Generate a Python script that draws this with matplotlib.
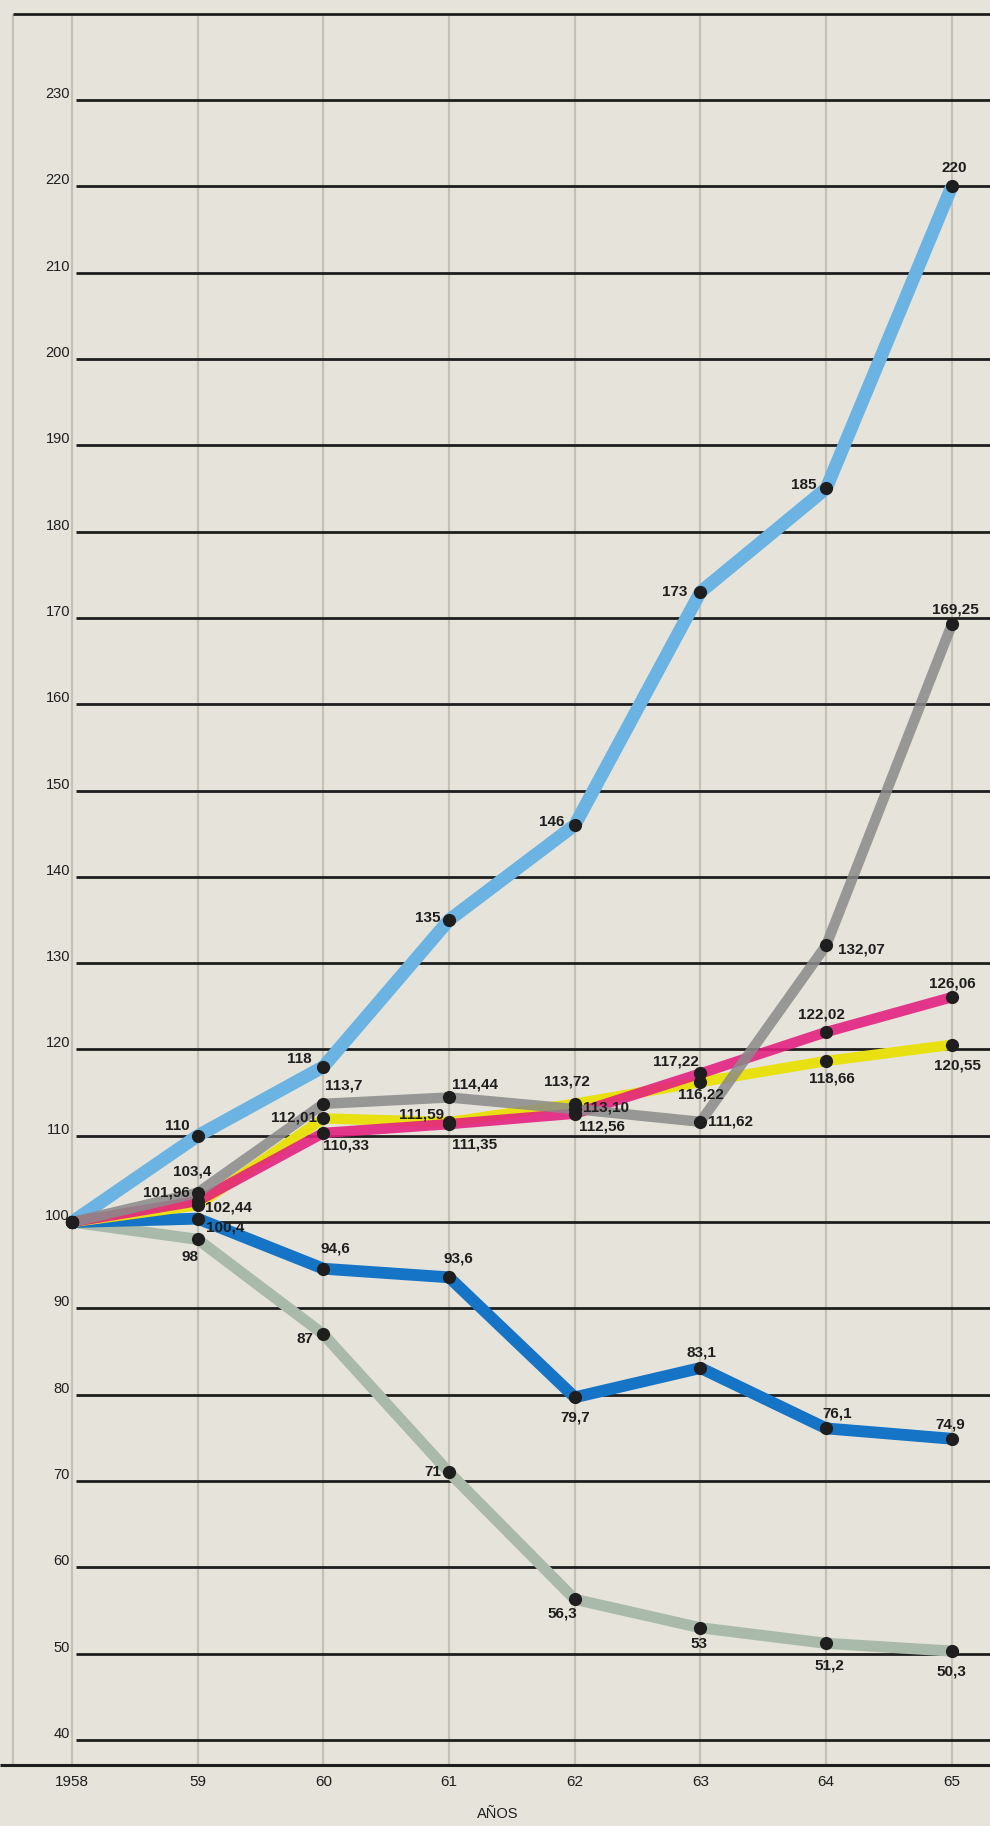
import matplotlib
matplotlib.use("Agg")
import matplotlib.pyplot as plt

# ---------------- data ----------------
years = [1958, 1959, 1960, 1961, 1962, 1963, 1964, 1965]
year_labels = ["1958", "59", "60", "61", "62", "63", "64", "65"]
y_ticks = [40, 50, 60, 70, 80, 90, 100, 110, 120, 130, 140, 150,
           160, 170, 180, 190, 200, 210, 220, 230]

sky = [100, 110, 118, 135, 146, 173, 185, 220]
sky_lbl = [None, "110", "118", "135", "146", "173", "185", "220"]

grey = [100, 103.4, 113.7, 114.44, 113.10, 111.62, 132.07, 169.25]
grey_lbl = [None, "103,4", "113,7", "114,44", "113,10", "111,62", "132,07", "169,25"]

yellow = [100, 101.96, 112.01, 111.59, 113.72, 116.22, 118.66, 120.55]
yellow_lbl = [None, "101,96", "112,01", "111,59", "113,72", "116,22", "118,66", "120,55"]

magenta = [100, 102.44, 110.33, 111.35, 112.56, 117.22, 122.02, 126.06]
magenta_lbl = [None, "102,44", "110,33", "111,35", "112,56", "117,22", "122,02", "126,06"]

blue = [100, 100.4, 94.6, 93.6, 79.7, 83.1, 76.1, 74.9]
blue_lbl = [None, "100,4", "94,6", "93,6", "79,7", "83,1", "76,1", "74,9"]

sage = [100, 98, 87, 71, 56.3, 53, 51.2, 50.3]
sage_lbl = [None, "98", "87", "71", "56,3", "53", "51,2", "50,3"]

# ---------------- layout (pixels) ----------------
W, H = 990, 1826
X0_PX, DX_PX = 72.0, 125.7          # pixel of 1958 and per-year spacing
Y230_PX, Y40_PX = 100.0, 1740.0     # pixel rows of 230 and 40
PPU = (Y40_PX - Y230_PX) / 190.0

xlim = (1958 - X0_PX / DX_PX, 1958 + (W - X0_PX) / DX_PX)
ylim = (40 - (H - Y40_PX) / PPU, 230 + Y230_PX / PPU)

def xpx(p):
    return xlim[0] + p / DX_PX

BG = "#e6e4da"
INK = "#1e1e1e"
FONT = ["Liberation Sans", "DejaVu Sans"]

fig = plt.figure(figsize=(W / 100, H / 100), dpi=100, facecolor=BG)
ax = fig.add_axes([0, 0, 1, 1])
ax.set_facecolor(BG)
ax.set_xlim(*xlim)
ax.set_ylim(*ylim)
ax.axis("off")

bottom_val = 40 - 25 / PPU
top_val = 240

# vertical paper lines
ax.vlines(years, bottom_val, top_val, color="#c4c2b6", lw=1.6, zorder=1)
ax.vlines([xpx(13)], bottom_val, top_val, color="#c4c2b6", lw=1.6, zorder=1)

# horizontal ruled lines
ax.hlines(y_ticks, xpx(76), xlim[1], color=INK, lw=2.0, zorder=2)
ax.hlines([top_val], xpx(13), xlim[1], color=INK, lw=2.0, zorder=2)
ax.hlines([bottom_val], xlim[0], xlim[1], color=INK, lw=2.2, zorder=2)

# y labels
for v in y_ticks:
    ax.annotate(str(v), (xpx(70), v), xytext=(0, 2), textcoords="offset pixels",
                ha="right", va="baseline", fontsize=10.5, color=INK, family=FONT)

# year labels
for yr, lab in zip(years, year_labels):
    ax.annotate(lab, (yr, bottom_val), xytext=(0, -10), textcoords="offset pixels",
                ha="center", va="top", fontsize=11, color=INK, family=FONT)

fig.text(498 / W, (H - 1814) / H, "AÑOS", ha="center", va="center",
         fontsize=10.5, color=INK, family=FONT)

# series
series = [
    (sage, sage_lbl, "#a9baab", 8.0, 1.0, 3),
    (blue, blue_lbl, "#1574c6", 8.5, 1.0, 4),
    (sky, sky_lbl, "#6ab3e2", 9.4, 1.0, 5),
    (yellow, yellow_lbl, "#e8e010", 7.5, 1.0, 6),
    (magenta, magenta_lbl, "#e31e80", 7.5, 0.88, 7),
    (grey, grey_lbl, "#8a8a8a", 7.5, 0.85, 8),
]
for vals, labs, col, lw, alpha, z in series:
    ax.plot(years, vals, color=col, lw=lw, alpha=alpha, solid_capstyle="butt",
            solid_joinstyle="round", zorder=z)
for vals, labs, col, lw, alpha, z in series:
    ax.plot(years, vals, "o", color=INK, ms=9.5, zorder=10, mec="none")

# label offsets (dx, dy in pixels, ha)
offsets = {
    "sky": [None, (-8, 10, "right"), (-12, 8, "right"), (-9, 2, "right"), (-10, 3, "right"),
            (-13, 0, "right"), (-10, 3, "right"), (2, 18, "center")],
    "grey": [None, (-6, 21, "center"), (2, 18, "left"), (3, 13, "left"), (8, 2, "left"),
             (8, 0, "left"), (12, -4, "left"), (3, 15, "center")],
    "yellow": [None, (-8, 13, "right"), (-6, 1, "right"), (-5, 8, "right"), (-8, 22, "center"),
               (0, -12, "center"), (6, -17, "center"), (6, -21, "center")],
    "magenta": [None, (7, -6, "left"), (0, -13, "left"), (3, -20, "left"), (4, -13, "left"),
                (-2, 12, "right"), (-5, 18, "center"), (0, 14, "center")],
    "blue": [None, (8, -9, "left"), (12, 20, "center"), (9, 19, "center"), (0, -20, "center"),
             (1, 15, "center"), (11, 15, "center"), (-2, 14, "center")],
    "sage": [None, (-8, -18, "center"), (-10, -5, "right"), (-8, 0, "right"), (-12, -14, "center"),
             (-2, -16, "center"), (3, -22, "center"), (0, -20, "center")],
}
names = ["sage", "blue", "sky", "yellow", "magenta", "grey"]
for name, (vals, labs, col, lw, alpha, z) in zip(names, series):
    for yr, v, lab, off in zip(years, vals, labs, offsets[name]):
        if lab is None:
            continue
        dx, dy, ha = off
        ax.annotate(lab, (yr, v), xytext=(dx, dy), textcoords="offset pixels",
                    ha=ha, va="center", fontsize=11, fontweight="bold",
                    color=INK, family=FONT, zorder=12)

fig.savefig("out.png", dpi=100, facecolor=BG)
